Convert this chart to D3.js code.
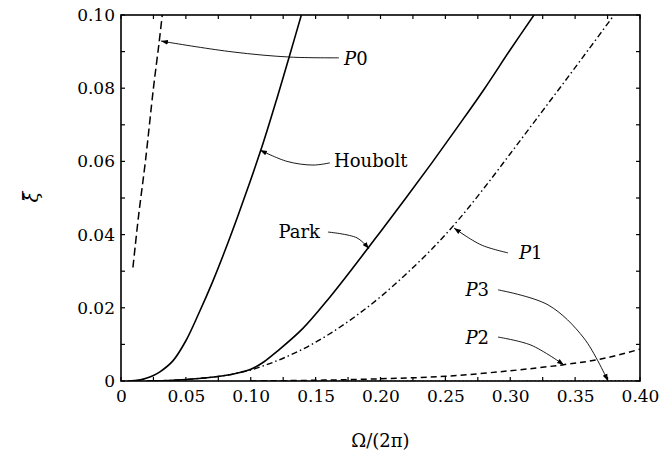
<!DOCTYPE html>
<html><head><meta charset="utf-8">
<script src="https://d3js.org/d3.v7.min.js"></script>
<style>body{margin:0;background:#fff}svg{display:block}</style>
</head><body><svg id="c" width="662" height="456"></svg>
<script>
// ---- data ----
const xTicks = [0, 0.05, 0.10, 0.15, 0.20, 0.25, 0.30, 0.35, 0.40];
const xTickLabels = ["0", "0.05", "0.10", "0.15", "0.20", "0.25", "0.30", "0.35", "0.40"];
const yTicks = [0, 0.02, 0.04, 0.06, 0.08, 0.10];
const yTickLabels = ["0", "0.02", "0.04", "0.06", "0.08", "0.10"];
const xMinor = [0.025, 0.075, 0.125, 0.175, 0.225, 0.275, 0.325, 0.375];
const yMinor = [0.01, 0.03, 0.05, 0.07, 0.09];

const p0X = [0.0092, 0.0135, 0.0188, 0.0250, 0.0292, 0.0318];
const p0Y = [0.031, 0.045, 0.060, 0.080, 0.092, 0.100];
const houboltX = [0.005, 0.010, 0.015, 0.020, 0.025, 0.030, 0.040, 0.050, 0.060, 0.070, 0.080, 0.090, 0.100, 0.110, 0.120, 0.130, 0.139];
const houboltY = [0, 0.0001, 0.0003, 0.0008, 0.0015, 0.0025, 0.0055, 0.0110, 0.0185, 0.0266, 0.0355, 0.0450, 0.0550, 0.0655, 0.0770, 0.0890, 0.100];
const parkX = [0.020, 0.040, 0.060, 0.080, 0.090, 0.100, 0.110, 0.120, 0.140, 0.160, 0.180, 0.200, 0.220, 0.240, 0.260, 0.280, 0.300, 0.3183];
const parkY = [0, 0.0002, 0.0007, 0.0015, 0.0022, 0.0032, 0.0052, 0.0080, 0.0143, 0.0225, 0.0315, 0.0408, 0.0502, 0.0598, 0.0697, 0.0798, 0.0905, 0.100];
const p1X = [0.020, 0.040, 0.060, 0.080, 0.090, 0.100, 0.120, 0.140, 0.160, 0.180, 0.200, 0.220, 0.240, 0.260, 0.280, 0.300, 0.320, 0.340, 0.360, 0.380];
const p1Y = [0, 0.0002, 0.0007, 0.0015, 0.0022, 0.0030, 0.0055, 0.0087, 0.0127, 0.0175, 0.0230, 0.0293, 0.0362, 0.0440, 0.0528, 0.0621, 0.0715, 0.0809, 0.0904, 0.100];
const p2X = [0.100, 0.150, 0.200, 0.250, 0.300, 0.340, 0.370, 0.400];
const p2Y = [0, 0.0002, 0.0006, 0.0013, 0.0028, 0.0044, 0.0060, 0.0087];
const p3X = [0.10, 0.20, 0.30, 0.40];
const p3Y = [0, 0, 0, 0.0001];

// annotation leaders (data coords), last point is the arrow tip
const notes = [
  {label: ["P", "0"], anchor: "start", tx: 0.1719, ty: 0.0880,
   px: [0.168, 0.1303, 0.0863, 0.0355, 0.0308], py: [0.0883, 0.0885, 0.0899, 0.0926, 0.0929]},
  {label: ["", "Houbolt"], anchor: "start", tx: 0.1642, ty: 0.0601,
   px: [0.161, 0.148, 0.128, 0.1071], py: [0.0596, 0.0590, 0.0600, 0.0631]},
  {label: ["", "Park"], anchor: "end", tx: 0.1534, ty: 0.0407,
   px: [0.1595, 0.1819, 0.1911], py: [0.0407, 0.0391, 0.0361]},
  {label: ["P", "1"], anchor: "start", tx: 0.3067, ty: 0.0350,
   px: [0.2983, 0.2775, 0.2566], py: [0.0350, 0.0372, 0.0418]},
  {label: ["P", "3"], anchor: "end", tx: 0.2836, ty: 0.0249,
   px: [0.2906, 0.3291, 0.3568, 0.3753], py: [0.0249, 0.0208, 0.0117, 0.0]},
  {label: ["P", "2"], anchor: "end", tx: 0.2836, ty: 0.0117,
   px: [0.2906, 0.316, 0.3414], py: [0.0120, 0.0098, 0.0044]}
];

// ---- chart ----
const FONT = "'DejaVu Serif', serif";
const svg = d3.select("#c").attr("font-family", FONT);
const L = 121, R = 640, T = 15, B = 381;
const x = d3.scaleLinear().domain([0, 0.4]).range([L, R]);
const y = d3.scaleLinear().domain([0, 0.1]).range([B, T]);

svg.append("defs").append("clipPath").attr("id", "clip")
  .append("rect").attr("x", L).attr("y", T).attr("width", R - L).attr("height", B - T);
svg.select("defs").append("marker").attr("id", "arr")
  .attr("viewBox", "0 0 10 10").attr("refX", 10).attr("refY", 5)
  .attr("markerWidth", 7).attr("markerHeight", 7).attr("markerUnits", "userSpaceOnUse")
  .attr("orient", "auto")
  .append("path").attr("d", "M0,1.5L10,5L0,8.5Z").attr("fill", "#000");

const fs = 17;
// axes
const xAxisB = d3.axisBottom(x).tickValues(xTicks).tickFormat((d, i) => xTickLabels[i]).tickSize(0).tickPadding(9);
const gxb = svg.append("g").attr("transform", `translate(0,${B})`).call(xAxisB);
gxb.select(".domain").remove();

const yAxisL = d3.axisLeft(y).tickValues(yTicks).tickFormat((d, i) => yTickLabels[i]).tickSize(0).tickPadding(6);
const gyl = svg.append("g").attr("transform", `translate(${L},0)`).call(yAxisL);
gyl.select(".domain").remove();
[gxb, gyl].forEach(g => {
  g.attr("font-family", null).attr("font-size", null);
  g.selectAll("text").attr("font-family", FONT).style("font-family", FONT)
    .attr("font-size", fs).style("font-size", fs + "px").attr("fill", "#000");
});

// inward ticks on all four sides
const tk = 4;
const allX = xTicks.concat(xMinor), allY = yTicks.concat(yMinor);
const tg = svg.append("g").attr("stroke", "#000").attr("stroke-width", 1.2);
allX.forEach(v => {
  tg.append("line").attr("x1", x(v)).attr("x2", x(v)).attr("y1", B).attr("y2", B - tk);
  tg.append("line").attr("x1", x(v)).attr("x2", x(v)).attr("y1", T).attr("y2", T + tk);
});
allY.forEach(v => {
  tg.append("line").attr("y1", y(v)).attr("y2", y(v)).attr("x1", L).attr("x2", L + tk);
  tg.append("line").attr("y1", y(v)).attr("y2", y(v)).attr("x1", R).attr("x2", R - tk);
});

// frame
svg.append("rect").attr("x", L).attr("y", T).attr("width", R - L).attr("height", B - T)
  .attr("fill", "none").attr("stroke", "#000").attr("stroke-width", 1.6);

// curves
const line = d3.line().x(d => x(d[0])).y(d => y(d[1])).curve(d3.curveCatmullRom.alpha(0.5));
const zip = (a, b) => a.map((v, i) => [v, b[i]]);
const series = [
  {xs: p3X, ys: p3Y, dash: "1,3", w: 1.2},
  {xs: p2X, ys: p2Y, dash: "6,4", w: 1.5},
  {xs: p1X, ys: p1Y, dash: "6,3,1.5,3", w: 1.4},
  {xs: parkX, ys: parkY, dash: null, w: 1.6},
  {xs: houboltX, ys: houboltY, dash: null, w: 1.6},
  {xs: p0X, ys: p0Y, dash: "8,4", w: 1.5}
];
const cg = svg.append("g").attr("clip-path", "url(#clip)");
series.forEach(s => {
  cg.append("path").attr("d", line(zip(s.xs, s.ys))).attr("fill", "none")
    .attr("stroke", "#000").attr("stroke-width", s.w).attr("stroke-dasharray", s.dash);
});

// annotations
const aline = d3.line().x(d => x(d[0])).y(d => y(d[1])).curve(d3.curveCatmullRom);
notes.forEach(n => {
  svg.append("path").attr("d", aline(zip(n.px, n.py))).attr("fill", "none")
    .attr("stroke", "#000").attr("stroke-width", 0.9).attr("marker-end", "url(#arr)");
  const t = svg.append("text").attr("x", x(n.tx)).attr("y", y(n.ty)).attr("dy", "0.35em")
    .attr("text-anchor", n.anchor).attr("font-size", fs + 1);
  if (n.label[0]) t.append("tspan").attr("font-style", "italic").text(n.label[0]);
  t.append("tspan").text(n.label[1]);
});

// axis titles
svg.append("text").attr("x", (L + R) / 2).attr("y", 447).attr("text-anchor", "middle")
  .attr("font-size", fs + 1).text("Ω/(2π)");
svg.append("text").attr("transform", "translate(38,197) rotate(-90)").attr("text-anchor", "middle")
  .attr("font-size", fs + 3).attr("font-style", "italic").text("ξ\u0304");
</script></body></html>
